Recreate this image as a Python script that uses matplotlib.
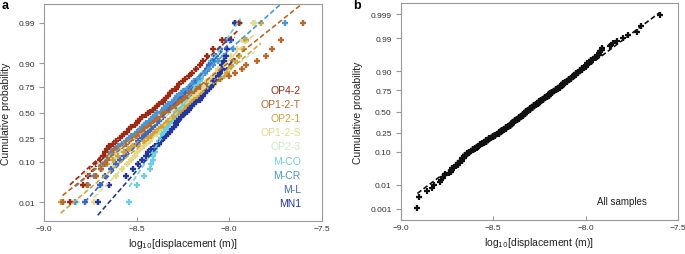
import numpy as np
import matplotlib
matplotlib.use("Agg")
import matplotlib.pyplot as plt
from statistics import NormalDist

plt.rcParams['font.family'] = ['Liberation Sans', 'DejaVu Sans']

# ---------------------------------------------------------------
# Data: sorted log10 displacement samples for each sample set
# ---------------------------------------------------------------
labels = ["OP4-2", "OP1-2-T", "OP2-1", "OP1-2-S", "OP2-3", "M-CO", "M-CR", "M-L", "MN1"]
colors = ["#9e2a16", "#b8692b", "#d3a23a", "#e6d98c", "#cde9c8",
          "#6ccfdf", "#4b97d4", "#3a68c6", "#25379c"]

op4_2 = [-8.86, -8.79, -8.76, -8.74, -8.72, -8.70, -8.68, -8.67, -8.66, -8.65,
         -8.63, -8.61, -8.59, -8.58, -8.57, -8.55, -8.54, -8.53, -8.51, -8.50,
         -8.49, -8.48, -8.47, -8.45, -8.44, -8.43, -8.41, -8.40, -8.39, -8.38,
         -8.36, -8.35, -8.34, -8.33, -8.32, -8.31, -8.29, -8.28, -8.27, -8.25,
         -8.24, -8.22, -8.20, -8.18, -8.16, -8.14, -8.12, -8.09, -8.04, -7.95]
op1_2_t = [-8.90, -8.77, -8.72, -8.69, -8.67, -8.66, -8.65, -8.63, -8.61, -8.58,
           -8.56, -8.54, -8.52, -8.50, -8.49, -8.47, -8.46, -8.44, -8.43, -8.41,
           -8.40, -8.39, -8.37, -8.36, -8.35, -8.33, -8.32, -8.31, -8.29, -8.28,
           -8.27, -8.25, -8.24, -8.22, -8.21, -8.19, -8.18, -8.16, -8.12, -8.09,
           -8.05, -8.00, -7.97, -7.93, -7.91, -7.85, -7.80, -7.77, -7.72, -7.60]
op2_1 = [-8.91, -8.77, -8.72, -8.69, -8.66, -8.63, -8.60, -8.57, -8.54, -8.52,
         -8.49, -8.46, -8.44, -8.42, -8.41, -8.40, -8.38, -8.37, -8.35, -8.34,
         -8.33, -8.31, -8.30, -8.29, -8.28, -8.26, -8.25, -8.24, -8.23, -8.21,
         -8.20, -8.19, -8.17, -8.16, -8.14, -8.13, -8.12, -8.10, -8.08, -8.07,
         -8.05, -8.03, -8.01, -8.00, -7.99, -7.97, -7.95, -7.92, -7.91, -7.83]
op1_2_s = [-8.73, -8.65, -8.61, -8.58, -8.55, -8.53, -8.51, -8.50, -8.48, -8.46,
           -8.45, -8.43, -8.42, -8.41, -8.39, -8.38, -8.37, -8.36, -8.35, -8.34,
           -8.33, -8.32, -8.31, -8.30, -8.29, -8.27, -8.26, -8.25, -8.24, -8.23,
           -8.22, -8.21, -8.20, -8.19, -8.18, -8.17, -8.15, -8.14, -8.13, -8.12,
           -8.10, -8.09, -8.07, -8.06, -8.04, -8.02, -7.99, -7.96, -7.93, -7.87]
op2_3 = [-8.82, -8.69, -8.67, -8.64, -8.63, -8.62, -8.61, -8.60, -8.59, -8.57,
         -8.55, -8.54, -8.52, -8.50, -8.49, -8.47, -8.46, -8.44, -8.43, -8.41,
         -8.40, -8.39, -8.37, -8.36, -8.35, -8.33, -8.32, -8.30, -8.28, -8.27,
         -8.25, -8.23, -8.21, -8.20, -8.18, -8.16, -8.14, -8.12, -8.10, -8.08,
         -8.06, -8.03, -8.01, -8.00, -7.99, -7.97, -7.95, -7.93, -7.92, -7.86]
m_co = [-8.54, -8.50, -8.46, -8.43, -8.42, -8.41, -8.41, -8.40, -8.40, -8.39,
        -8.38, -8.38, -8.37, -8.36, -8.36, -8.35, -8.34, -8.34, -8.33, -8.32,
        -8.32, -8.31, -8.30, -8.30, -8.29, -8.29, -8.28, -8.27, -8.26, -8.25,
        -8.24, -8.24, -8.23, -8.22, -8.21, -8.20, -8.19, -8.18, -8.17, -8.16,
        -8.15, -8.15, -8.14, -8.12, -8.11, -8.10, -8.08, -8.05, -8.02, -7.94]
m_cr = [-8.83, -8.76, -8.73, -8.69, -8.68, -8.67, -8.65, -8.64, -8.62, -8.60,
        -8.58, -8.56, -8.54, -8.53, -8.51, -8.50, -8.48, -8.47, -8.46, -8.45,
        -8.43, -8.42, -8.41, -8.40, -8.39, -8.37, -8.36, -8.35, -8.34, -8.33,
        -8.31, -8.30, -8.29, -8.28, -8.26, -8.25, -8.23, -8.22, -8.20, -8.19,
        -8.17, -8.15, -8.13, -8.11, -8.09, -8.06, -8.03, -7.98, -7.91, -7.70]
m_l = [-8.78, -8.70, -8.67, -8.64, -8.61, -8.59, -8.57, -8.56, -8.54, -8.52,
       -8.50, -8.49, -8.47, -8.46, -8.45, -8.44, -8.42, -8.41, -8.40, -8.39,
       -8.38, -8.37, -8.36, -8.35, -8.34, -8.34, -8.33, -8.32, -8.31, -8.30,
       -8.29, -8.28, -8.27, -8.26, -8.24, -8.23, -8.22, -8.21, -8.20, -8.18,
       -8.17, -8.15, -8.13, -8.12, -8.11, -8.09, -8.07, -8.05, -8.02, -7.97]
mn1 = [-8.71, -8.65, -8.56, -8.52, -8.49, -8.47, -8.45, -8.44, -8.42, -8.40,
       -8.38, -8.37, -8.35, -8.34, -8.33, -8.32, -8.31, -8.30, -8.29, -8.29,
       -8.28, -8.27, -8.26, -8.25, -8.24, -8.23, -8.22, -8.21, -8.20, -8.19,
       -8.18, -8.16, -8.15, -8.14, -8.13, -8.12, -8.11, -8.10, -8.09, -8.08,
       -8.07, -8.06, -8.05, -8.04, -8.04, -8.03, -8.02, -8.01, -7.99, -7.97]

series = [op4_2, op1_2_t, op2_1, op1_2_s, op2_3, m_co, m_cr, m_l, mn1]

ticks_a = [0.01, 0.10, 0.25, 0.50, 0.75, 0.90, 0.99]
ticks_b = [0.001, 0.01, 0.10, 0.25, 0.50, 0.75, 0.90, 0.99, 0.999]
x_ticks = [-9.0, -8.5, -8.0, -7.5]

nd = NormalDist()


def prob_points(vals):
    # normal probability plot positions (i - 0.5) / n
    x = np.sort(np.asarray(vals, dtype=float))
    n = len(x)
    z = np.array([nd.inv_cdf((i - 0.5) / n) for i in range(1, n + 1)])
    return x, z


def ref_line(x):
    # line through 1st and 3rd quartiles, extended to the data range
    q1, q3 = np.percentile(x, [25, 75])
    z1, z3 = nd.inv_cdf(0.25), nd.inv_cdf(0.75)
    k = (z3 - z1) / (q3 - q1)
    xs = np.array([x.min(), x.max()])
    return xs, z1 + k * (xs - q1)


def style_axis(ax, yticks, ylim):
    ax.set_xlim(-9.0, -7.5)
    ax.set_ylim(-ylim, ylim)
    ax.set_xticks(x_ticks)
    ax.set_xticklabels(["\u22129.0", "\u22128.5", "\u22128.0", "\u22127.5"])
    ax.set_yticks([nd.inv_cdf(p) for p in yticks])
    ax.set_yticklabels([("%.3f" % p).rstrip("0") if p in (0.001, 0.999) else "%.2f" % p
                        for p in yticks])
    for s in ax.spines.values():
        s.set_color("#9a9a9a")
        s.set_linewidth(0.8)
    ax.tick_params(axis="x", direction="in", length=3, color="#9a9a9a",
                   labelsize=6, labelcolor="#333333", pad=3)
    ax.tick_params(axis="y", direction="out", length=3.5, color="#9a9a9a",
                   labelsize=6, labelcolor="#333333", pad=3)
    ax.set_xlabel("log$_{10}$[displacement (m)]", fontsize=7.5, color="#222222", labelpad=3)
    ax.set_ylabel("Cumulative probability", fontsize=7.5, color="#222222", labelpad=5)


fig = plt.figure(figsize=(6.85, 2.55), dpi=100)
ax1 = fig.add_axes([0.0642, 0.1294, 0.4058, 0.851])
ax2 = fig.add_axes([0.585, 0.1333, 0.4048, 0.851])

# ---------------- panel a ----------------
draw_order = [4, 3, 5, 7, 6, 2, 1, 8, 0]
for k in draw_order:
    x, z = prob_points(series[k])
    ax1.plot(x, z, ls="", marker="+", ms=4.5, mew=1.7, color=colors[k], zorder=2)
for k in draw_order:
    x, z = prob_points(series[k])
    lx, lz = ref_line(x)
    ax1.plot(lx, lz, ls=(0, (3, 1.6)), lw=1.2, color=colors[k], zorder=3)

style_axis(ax1, ticks_a, 2.82)

for k, lab in enumerate(labels):
    ax1.text(0.924, 0.605 - k * 0.0654, lab, transform=ax1.transAxes,
             ha="right", va="center", fontsize=7.5, color=colors[k])

# ---------------- panel b ----------------
all_samples = np.concatenate([np.asarray(s) for s in series])
xb, zb = prob_points(all_samples)
ax2.plot(xb, zb, ls="", marker="+", ms=4.5, mew=1.6, color="#111111", zorder=2)
lx, lz = ref_line(xb)
ax2.plot(lx, lz, ls=(0, (3, 1.6)), lw=1.2, color="#111111", zorder=3)

style_axis(ax2, ticks_b, 3.45)
ax2.text(0.707, 0.0875, "All samples", transform=ax2.transAxes,
         ha="left", va="center", fontsize=7, color="#222222")

fig.text(0.002, 0.975, "a", fontsize=9, fontweight="bold", va="center")
fig.text(0.515, 0.975, "b", fontsize=9, fontweight="bold", va="center")

fig.savefig("out.png", dpi=100)
